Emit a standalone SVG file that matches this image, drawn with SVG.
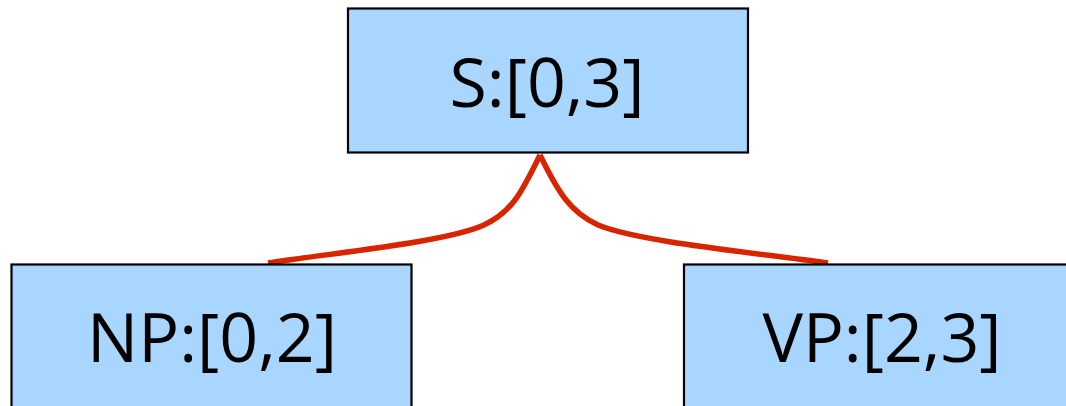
<svg xmlns="http://www.w3.org/2000/svg" width="1066" height="406" viewBox="0 0 1066 406">
<style>
.box{fill:#a9d6fe;stroke:#000;stroke-width:2.2}
.lbl{font-family:"Open Sans","DejaVu Sans",sans-serif;font-size:68px;fill:#000;text-anchor:middle}
.edge{fill:none;stroke:#d92400;stroke-width:5.5}
</style>
<rect width="1066" height="406" fill="#fff"/>
<g id="connectors">
<path class="edge" d="M540,155 C522,192 512,212 484,225 C446,242 340,252 268,263"/>
<path class="edge" d="M540,155 C558,192 570,212 598,225 C640,242 750,252 828,263"/>
</g>
<g id="node-S">
<rect class="box" x="348" y="8.5" width="400" height="144"/>
<text class="lbl" x="547" y="107">S:[0,3]</text>
</g>
<g id="node-NP">
<rect class="box" x="11.5" y="264.5" width="400" height="150"/>
<text class="lbl" x="212" y="362">NP:[0,2]</text>
</g>
<g id="node-VP">
<rect class="box" x="684" y="264.5" width="400" height="150"/>
<text class="lbl" x="882" y="362">VP:[2,3]</text>
</g>
</svg>
